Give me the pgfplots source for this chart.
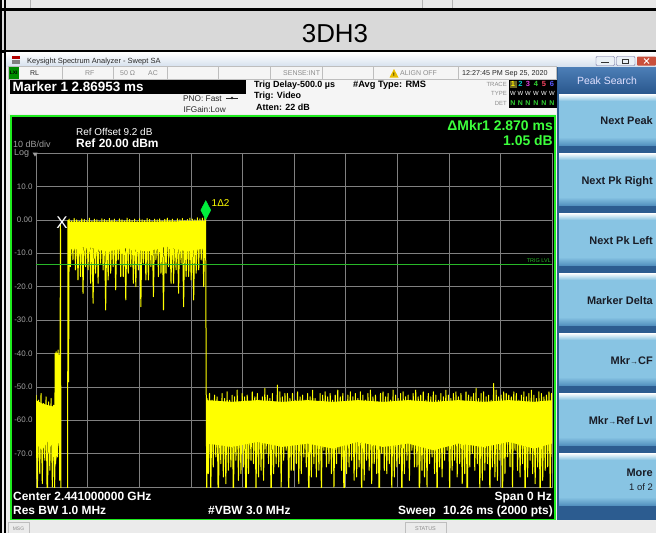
\documentclass[border=0pt]{standalone}
\usepackage{pgfplots}
\pgfplotsset{compat=1.18}
\usepackage{fontspec}
\setmainfont{Liberation Sans}
\newcommand{\fs}[1]{\fontsize{#1}{#1}\selectfont}
\definecolor{topstrip}{RGB}{232,232,232}
\definecolor{titlegray}{RGB}{217,217,217}
\definecolor{winbg}{RGB}{236,236,236}
\definecolor{tbar}{RGB}{214,225,238}
\definecolor{statbg}{RGB}{245,245,245}
\definecolor{cellline}{RGB}{190,190,190}
\definecolor{dimtext}{RGB}{140,140,140}
\definecolor{darktext}{RGB}{40,40,40}
\definecolor{panelbg}{RGB}{44,92,144}
\definecolor{hdrtop}{RGB}{76,126,182}
\definecolor{hdrbot}{RGB}{42,88,142}
\definecolor{btn}{RGB}{136,196,227}
\definecolor{btndark}{RGB}{84,146,192}
\definecolor{btntext}{RGB}{25,28,38}
\definecolor{dispgreen}{RGB}{30,235,30}
\definecolor{mkgreen}{RGB}{60,255,60}
\definecolor{gridc}{RGB}{128,128,128}
\definecolor{ticktext}{RGB}{160,160,160}
\definecolor{trace}{RGB}{255,255,0}
\definecolor{trig}{RGB}{40,185,40}
\definecolor{diam}{RGB}{0,240,60}
\definecolor{closered}{RGB}{201,80,60}
\definecolor{trtwo}{RGB}{0,210,210}
\definecolor{trthree}{RGB}{220,60,220}
\definecolor{trfour}{RGB}{50,210,50}
\definecolor{trfive}{RGB}{255,70,100}
\definecolor{trsix}{RGB}{90,90,255}
\definecolor{warn}{RGB}{232,190,0}
\begin{document}
\begin{tikzpicture}
\useasboundingbox (0,0) rectangle (656bp,-533bp);
\begin{scope}[x=1bp,y=-1bp,every node/.style={inner sep=0pt}]
% page background and title row
\fill[white] (0,0) rectangle (656,533);
\fill[topstrip] (0,0) rectangle (656,8);
\draw[gray!60, line width=0.6] (30,0)--(30,8) (422,0)--(422,8) (452,0)--(452,8);
\fill[black] (0,8) rectangle (656,10.5);
\fill[titlegray] (0,10.5) rectangle (656,49.5);
\fill[black] (0,49.5) rectangle (656,52.5);
\node[anchor=base, font=\fs{26}] at (335,42.3) {3DH3};
% window
\fill[winbg] (0,52.5) rectangle (656,533);
\shade[top color=white, bottom color=tbar] (6,52.5) rectangle (656,66.5);
\fill[red!70!black] (12,56) rectangle (20,59);
\fill[gray] (12,59.5) rectangle (20,64);
\node[anchor=base west, text=darktext, font=\fs{7.5}] at (27,63.5) {Keysight Spectrum Analyzer - Swept SA};
\draw[draw=gray!80!blue, fill=tbar!50!white, rounded corners=1] (596,56.5) rectangle (614.5,65.5);
\draw[gray!40!black, line width=1] (601,62.5)--(609,62.5);
\draw[draw=gray!80!blue, fill=tbar!50!white, rounded corners=1] (616.5,56.5) rectangle (635,65.5);
\draw[gray!40!black, line width=0.6] (622,59.5) rectangle (628.5,63.5);
\fill[closered, rounded corners=1] (637,56.5) rectangle (656,65.5);
\draw[white, line width=1] (644,58.5)--(649,63.5) (644,63.5)--(649,58.5);
% left border
\fill[black] (0,0) rectangle (2.2,533);
\fill[black] (4,0) rectangle (5.8,533);
% status row
\fill[statbg] (8,66.5) rectangle (556,79.5);
\draw[cellline, line width=0.5] (8,66.5) rectangle (556,79.5);
\foreach \x in {62,113,167,218,270,322,373,458} \draw[cellline, line width=0.5] (\x,66.5)--(\x,79.5);
\fill[green!55!black] (8.5,67) rectangle (19,79);
\node[font=\bfseries\fs{5}] at (13.7,73) {LXI};
\node[anchor=base west, text=darktext, font=\fs{7}] at (30,75.5) {RL};
\node[anchor=base west, text=dimtext, font=\fs{7}] at (85,75.5) {RF};
\node[anchor=base west, text=dimtext, font=\fs{7}] at (120,75.5) {50 Ω};
\node[anchor=base west, text=dimtext, font=\fs{7}] at (148,75.5) {AC};
\node[anchor=base west, text=dimtext, font=\fs{7}] at (283,75.5) {SENSE:INT};
\fill[warn] (389.5,77.5)--(394,69)--(398.5,77.5)--cycle;
\node[font=\bfseries\fs{5}] at (394,74.8) {!};
\node[anchor=base west, text=dimtext, font=\fs{7}] at (400,75.5) {ALIGN OFF};
\node[anchor=base west, text=darktext, font=\fs{7.2}] at (462,75.5) {12:27:45 PM Sep 25, 2020};
% marker row
\fill[white!96!black] (8,79.5) rectangle (556,114);
\fill[black] (10,80) rectangle (246,93.5);
\node[anchor=base west, text=white, font=\bfseries\fs{13.5}] at (12.5,91.9) {Marker 1 2.86953 ms};
\node[anchor=base east, text=darktext, font=\fs{8.3}] at (222,101) {PNO: Fast};
\draw[darktext, line width=0.5] (226,98)--(238,98);
\fill[darktext] (232,98) circle (1.4);
\node[anchor=base east, text=darktext, font=\fs{8.3}] at (226,112) {IFGain:Low};
\node[anchor=base west, text=black, font=\bfseries\fs{9}] at (254,87.7) {Trig Delay-500.0 µs};
\node[anchor=base west, text=black, font=\bfseries\fs{9}] at (254,98.2) {Trig: Video};
\node[anchor=base west, text=black, font=\bfseries\fs{9}] at (256,110.2) {Atten: 22 dB};
\node[anchor=base west, text=black, font=\bfseries\fs{9.3}] at (353,87.7) {\#Avg Type: RMS};
\node[anchor=base east, text=dimtext, font=\fs{6}] at (507,86.5) {TRACE};
\node[anchor=base east, text=dimtext, font=\fs{6}] at (507,95.5) {TYPE};
\node[anchor=base east, text=dimtext, font=\fs{6}] at (507,105) {DET};
\fill[black] (509,80) rectangle (556.5,108);
\fill[olive!70!black] (510,80.5) rectangle (516.5,88);
\node[text=yellow, font=\bfseries\fs{7.5}] at (513,84.3) {1};
\node[text=trtwo, font=\bfseries\fs{7.5}] at (520.5,84.3) {2};
\node[text=trthree, font=\bfseries\fs{7.5}] at (528,84.3) {3};
\node[text=trfour, font=\bfseries\fs{7.5}] at (536,84.3) {4};
\node[text=trfive, font=\bfseries\fs{7.5}] at (544,84.3) {5};
\node[text=trsix, font=\bfseries\fs{7.5}] at (552,84.3) {6};
\foreach \x in {513,520.5,528,536,544,552} {
  \node[text=white, font=\fs{6}] at (\x,93.5) {W};
  \node[text=trfour, font=\bfseries\fs{7}] at (\x,102.8) {N};
}
% right soft key panel
\fill[panelbg] (557,66.5) rectangle (656,519.5);
\shade[top color=hdrtop, bottom color=hdrbot] (558,67.5) rectangle (656,93);
\node[anchor=base, text=white!88!blue, font=\fs{10.5}] at (607,84.8) {Peak Search};
\foreach \t/\b in {94/145,153/205,213/265,273/325,333/385,393/445,453/505} {
  \fill[btn] (559,\t) rectangle (656,\b);
  \shade[top color=white, bottom color=btn] (559,\t) rectangle (656,\t+7);
  \shade[top color=btn, bottom color=btndark] (559,\b-8) rectangle (656,\b);
}
\node[anchor=base east, text=btntext, font=\bfseries\fs{11}] at (653,124) {Next Peak};
\node[anchor=base east, text=btntext, font=\bfseries\fs{11}] at (653,184) {Next Pk Right};
\node[anchor=base east, text=btntext, font=\bfseries\fs{11}] at (653,244) {Next Pk Left};
\node[anchor=base east, text=btntext, font=\bfseries\fs{11}] at (653,304) {Marker Delta};
\node[anchor=base east, text=btntext, font=\bfseries\fs{11}] at (653,364) {Mkr{\fs{8}→}CF};
\node[anchor=base east, text=btntext, font=\bfseries\fs{11}] at (653,424) {Mkr{\fs{8}→}Ref Lvl};
\node[anchor=base east, text=btntext, font=\bfseries\fs{11}] at (653,476) {More};
\node[anchor=base east, text=btntext, font=\fs{9.5}] at (653,490.5) {1 of 2};
% display
\fill[black] (11,116) rectangle (555,519.5);
\draw[dispgreen, line width=2] (11,116) rectangle (555,519.5);
% bottom bar
\fill[white!92!black] (6,521) rectangle (656,533);
\draw[cellline, line width=0.5] (8,522) rectangle (29,533);
\node[text=dimtext, font=\fs{5}] at (18.5,528.3) {MSG};
\draw[cellline, line width=0.5] (405,522) rectangle (446,533);
\node[text=dimtext, font=\fs{5.5}] at (425.5,528.8) {STATUS};
\end{scope}

\begin{axis}[
  at={(36bp,-487bp)}, anchor=south west,
  width=516bp, height=334bp, scale only axis,
  xmin=0, xmax=10.26, ymin=-80, ymax=20,
  xtick={1.026,2.052,3.078,4.104,5.13,6.156,7.182,8.208,9.234},
  xticklabels={},
  ytick={-70,-60,-50,-40,-30,-20,-10,0,10},
  yticklabels={-70.0,-60.0,-50.0,-40.0,-30.0,-20.0,-10.0,0.00,10.0},
  grid=major,
  major grid style={draw=gridc, line width=0.6bp},
  major tick length=0pt,
  axis line style={draw=gridc, line width=0.6bp},
  tick label style={font=\fs{8}, text=ticktext},
  axis background/.style={fill=black},
]
% solid cores of the trace
\addplot[draw=none, fill=trace] coordinates {(0,-54)(0.12,-55)(0.24,-55.5)(0.37,-56)(0.37,-68)(0.25,-66)(0.12,-69)(0,-67)};
\addplot[draw=none, fill=trace] coordinates {(0.38,-41)(0.46,-41.5)(0.46,-66)(0.38,-74)};
\addplot[draw=none, fill=trace] coordinates {(0.645,-0.5)(1.0,-0.6)(1.5,-0.5)(2.0,-0.6)(2.5,-0.5)(3.0,-0.4)(3.37,-0.3)(3.37,-8.5)(3.0,-9.5)(2.6,-8)(2.2,-9.5)(1.8,-8.5)(1.4,-9.5)(1.0,-8)(0.645,-9)};
\addplot[draw=none, fill=trace] coordinates {(3.39,-54)(3.9,-54.5)(4.4,-54)(4.9,-54.5)(5.4,-54)(5.9,-54.5)(6.4,-54)(6.9,-54.5)(7.4,-54)(7.9,-54.5)(8.4,-54)(8.9,-54.5)(9.4,-54)(9.9,-54.5)(10.26,-54)(10.26,-67)(9.9,-68.5)(9.4,-66.5)(8.9,-68)(8.4,-67)(7.9,-69)(7.4,-67)(6.9,-68)(6.4,-66.5)(5.9,-68.5)(5.4,-67)(4.9,-68)(4.4,-66.5)(3.9,-68)(3.39,-67)};
% trace
\addplot[color=trace, line width=1.0bp, line join=round] coordinates {
(0,-52.5)(0.025,-84)(0.05,-54)(0.075,-76)(0.1,-52)(0.125,-79)(0.15,-55)(0.175,-72)(0.2,-53)(0.225,-88)(0.25,-54.5)(0.275,-75)(0.3,-53.5)(0.325,-80)(0.35,-55.5)(0.372,-82)
(0.38,-40)(0.39,-73)(0.40,-39.5)(0.41,-66)(0.42,-40)(0.43,-71)(0.44,-39)(0.45,-62)(0.46,-40.5)(0.47,-78)(0.487,-1.5)(0.497,-96)(0.626,-96)(0.636,-0.2)(0.648,-48.5)
(0.66,0.2)(0.685,-14)(0.71,-0.3)(0.735,-12)(0.76,0.4)(0.785,-15)(0.81,0)(0.835,-18)(0.86,-0.5)(0.885,-17)
(0.91,0.3)(0.935,-22)(0.96,0.1)(0.985,-14)(1.01,-0.2)(1.035,-15)(1.06,0.5)(1.085,-19)(1.11,-0.4)(1.135,-25)
(1.16,0.2)(1.185,-16)(1.21,0)(1.235,-19)(1.26,-0.6)(1.285,-13)(1.31,0.3)(1.335,-15)(1.36,0.1)(1.385,-27)
(1.41,-0.2)(1.435,-18)(1.46,0.4)(1.485,-16)(1.51,-0.1)(1.535,-14)(1.56,0.2)(1.585,-21)(1.61,-0.5)(1.635,-12)
(1.66,0.3)(1.685,-17)(1.71,0)(1.735,-17)(1.76,-0.3)(1.785,-24)(1.81,0.5)(1.835,-16)(1.86,0.1)(1.885,-14)
(1.91,-0.2)(1.935,-19)(1.96,0.2)(1.985,-20)(2.01,-0.4)(2.035,-15)(2.06,0.3)(2.085,-26)(2.11,0)(2.135,-13)
(2.16,-0.2)(2.185,-18)(2.21,0.4)(2.235,-18)(2.26,0.1)(2.285,-14)(2.31,-0.5)(2.335,-23)(2.36,0.2)(2.385,-12)
(2.41,0)(2.435,-17)(2.46,0.3)(2.485,-16)(2.51,-0.3)(2.535,-27)(2.56,0.1)(2.585,-16)(2.61,0.5)(2.635,-14)
(2.66,-0.1)(2.685,-19)(2.71,0.2)(2.735,-19)(2.76,-0.4)(2.785,-15)(2.81,0.3)(2.835,-22)(2.86,0)(2.885,-13)
(2.91,0.4)(2.935,-26)(2.96,-0.2)(2.985,-17)(3.01,0.1)(3.035,-17)(3.06,0.5)(3.085,-18)(3.11,0.2)(3.135,-24)
(3.16,0)(3.185,-16)(3.21,0.6)(3.235,-15)(3.26,0.3)(3.285,-12)(3.31,0.5)(3.335,-20)(3.36,0.8)(3.372,0.9)
(3.385,-52)(3.395,-83)
(3.400,-53.5)(3.425,-76)(3.450,-52)(3.475,-82)(3.500,-54)(3.525,-74)(3.550,-52.5)(3.575,-71)(3.600,-53)(3.625,-88)
(3.650,-55)(3.675,-73)(3.700,-52)(3.725,-77)(3.750,-53.5)(3.775,-79)(3.800,-51.5)(3.825,-75)(3.850,-54)(3.875,-74)
(3.900,-52.5)(3.925,-85)(3.950,-53)(3.975,-72)(4.000,-51)(4.025,-78)(4.050,-54.5)(4.075,-76)(4.100,-52)(4.125,-74)
(4.150,-53)(4.175,-90)(4.200,-52.5)(4.225,-76)(4.250,-55)(4.275,-72)(4.300,-51.5)(4.325,-73)(4.350,-53)(4.375,-81)
(4.400,-52)(4.425,-77)(4.450,-54)(4.475,-75)(4.500,-53)(4.525,-78)(4.550,-50.5)(4.575,-70)(4.600,-52.5)(4.625,-73)
(4.650,-53.5)(4.675,-86)(4.700,-52)(4.725,-76)(4.750,-54.5)(4.775,-73)(4.800,-49.5)(4.825,-74)(4.850,-51.5)(4.875,-80)
(4.900,-53)(4.925,-72)(4.950,-52)(4.975,-69)(5.000,-52)(5.025,-84)(5.050,-53.5)(5.075,-75)(5.100,-52)(5.125,-75)
(5.150,-54)(5.175,-73)(5.200,-51.5)(5.225,-79)(5.250,-53)(5.275,-76)(5.300,-52.5)(5.325,-71)(5.350,-54)(5.375,-74)
(5.400,-52)(5.425,-88)(5.450,-53)(5.475,-77)(5.500,-51)(5.525,-73)(5.550,-53.5)(5.575,-77)(5.600,-54.5)(5.625,-75)
(5.650,-52)(5.675,-82)(5.700,-52.5)(5.725,-69)(5.750,-51.5)(5.775,-74)(5.800,-53)(5.825,-73)(5.850,-52)(5.875,-76)
(5.900,-54)(5.925,-80)(5.950,-52.5)(5.975,-73)(6.000,-51)(6.025,-70)(6.050,-53)(6.075,-75)(6.100,-52)(6.125,-87)
(6.150,-55)(6.175,-76)(6.200,-52.5)(6.225,-74)(6.250,-51.5)(6.275,-72)(6.300,-53)(6.325,-78)(6.350,-52)(6.375,-77)
(6.400,-53.5)(6.425,-74)(6.450,-51.5)(6.475,-83)(6.500,-52.5)(6.525,-78)(6.550,-54)(6.575,-72)(6.600,-52)(6.625,-75)
(6.650,-51)(6.675,-79)(6.700,-53)(6.725,-73)(6.750,-52.5)(6.775,-76)(6.800,-54.5)(6.825,-90)(6.850,-52)(6.875,-70)
(6.900,-51.5)(6.925,-75)(6.950,-53)(6.975,-76)(7.000,-52)(7.025,-73)(7.050,-54)(7.075,-81)(7.100,-51)(7.125,-77)
(7.150,-52.5)(7.175,-74)(7.200,-53.5)(7.225,-73)(7.250,-52)(7.275,-85)(7.300,-51.5)(7.325,-76)(7.350,-53)(7.375,-72)
(7.400,-52.5)(7.425,-78)(7.450,-54)(7.475,-69)(7.500,-52)(7.525,-74)(7.550,-51)(7.575,-74)(7.600,-53)(7.625,-86)
(7.650,-52.5)(7.675,-75)(7.700,-51.5)(7.725,-77)(7.750,-54)(7.775,-80)(7.800,-52)(7.825,-73)(7.850,-53)(7.875,-71)
(7.900,-51.5)(7.925,-76)(7.950,-52.5)(7.975,-84)(8.000,-54)(8.025,-74)(8.050,-52)(8.075,-77)(8.100,-53)(8.125,-72)
(8.150,-51)(8.175,-69)(8.200,-52.5)(8.225,-82)(8.250,-53.5)(8.275,-75)(8.300,-52)(8.325,-72)(8.350,-51.5)(8.375,-77)
(8.400,-53)(8.425,-73)(8.450,-52)(8.475,-79)(8.500,-54.5)(8.525,-76)(8.550,-51.5)(8.575,-88)(8.600,-52.5)(8.625,-74)
(8.650,-53)(8.675,-70)(8.700,-52)(8.725,-75)(8.750,-50.5)(8.775,-73)(8.800,-53.5)(8.825,-81)(8.850,-52)(8.875,-78)
(8.900,-51.5)(8.925,-75)(8.950,-53)(8.975,-73)(9.000,-52.5)(9.025,-83)(9.050,-54)(9.075,-74)(9.100,-49)(9.125,-77)
(9.150,-51)(9.175,-78)(9.200,-53)(9.225,-72)(9.250,-52.5)(9.275,-86)(9.300,-51.5)(9.325,-76)(9.350,-52)(9.375,-71)
(9.400,-52.5)(9.425,-74)(9.450,-53)(9.475,-80)(9.500,-51.5)(9.525,-69)(9.550,-52)(9.575,-75)(9.600,-54)(9.625,-77)
(9.650,-52.5)(9.675,-73)(9.700,-51.5)(9.725,-84)(9.750,-53)(9.775,-77)(9.800,-52)(9.825,-72)(9.850,-51)(9.875,-76)
(9.900,-52.5)(9.925,-79)(9.950,-53.5)(9.975,-74)(10.000,-51.5)(10.025,-87)(10.050,-52)(10.075,-78)(10.100,-53)(10.125,-75)
(10.150,-52.5)(10.175,-74)(10.200,-51.5)(10.225,-82)(10.250,-52)(10.275,-76)
};
% trigger level
\addplot[color=trig, line width=0.7bp] coordinates {(0,-13.4)(10.26,-13.4)};
\node[text=trig, font=\fs{5.5}, anchor=east, inner sep=0pt] at (axis cs:10.24,-12.1) {TRIG LVL};
% markers
\addplot[only marks, mark=diamond*, mark size=9.5bp, mark options={fill=diam, draw=diam, xscale=0.7}] coordinates {(3.376,2.9)};
\node[text=trace, font=\fs{10}, anchor=west, inner sep=0pt] at (axis cs:3.49,5.0) {1Δ2};
\node[text=white, font=\fs{17}, inner sep=0pt] at (axis cs:0.517,-1.0) {X};
\end{axis}

\begin{scope}[x=1bp,y=-1bp,every node/.style={inner sep=0pt}]
\node[anchor=base west, text=white, font=\fs{10}] at (76,135.6) {Ref Offset 9.2 dB};
\node[anchor=base west, text=white, font=\bfseries\fs{12}] at (76,147.8) {Ref 20.00 dBm};
\node[anchor=base west, text=ticktext, font=\fs{9}] at (13,147.7) {10 dB/div};
\node[anchor=base west, text=ticktext, font=\fs{9}] at (14,155.3) {Log};
\fill[ticktext] (32.5,152.5)--(37.5,152.5)--(35,156.5)--cycle;
\node[anchor=base east, text=mkgreen, font=\bfseries\fs{14}] at (553,130) {ΔMkr1 2.870 ms};
\node[anchor=base east, text=mkgreen, font=\bfseries\fs{14}] at (553,145) {1.05 dB};
\node[anchor=base west, text=white, font=\bfseries\fs{12}] at (13,500.3) {Center 2.441000000 GHz};
\node[anchor=base west, text=white, font=\bfseries\fs{12}] at (13,514.3) {Res BW 1.0 MHz};
\node[anchor=base west, text=white, font=\bfseries\fs{12}] at (208,514.3) {\#VBW 3.0 MHz};
\node[anchor=base east, text=white, font=\bfseries\fs{12}] at (552,500.3) {Span 0 Hz};
\node[anchor=base east, text=white, font=\bfseries\fs{12}] at (553,514.3) {Sweep\hspace{0.6em}10.26 ms (2000 pts)};
\end{scope}
\end{tikzpicture}
\end{document}
